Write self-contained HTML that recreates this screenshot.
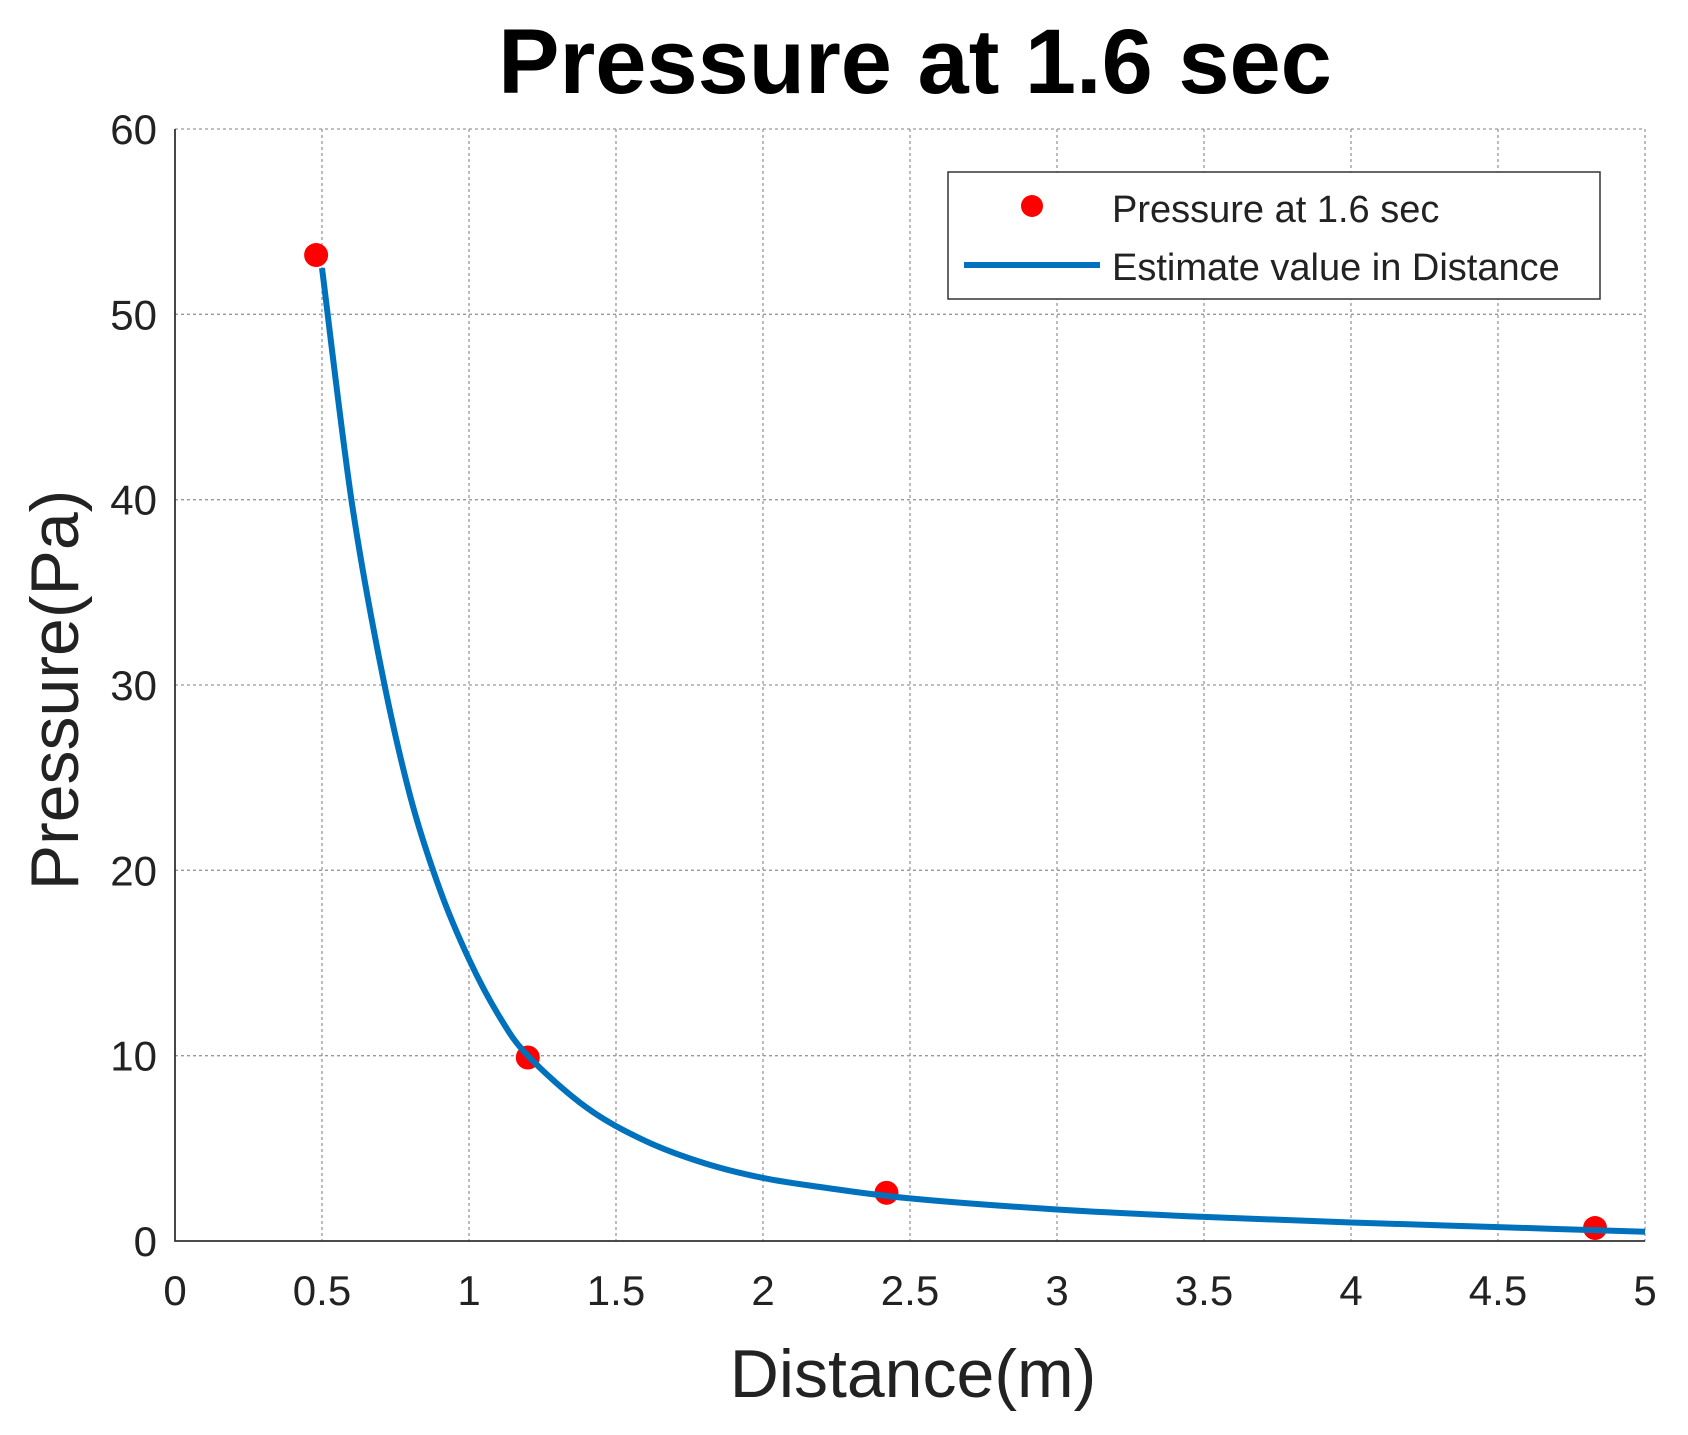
<!DOCTYPE html>
<html><head><meta charset="utf-8"><style>
body{margin:0;background:#fff;}
svg{display:block;font-family:"Liberation Sans",Arial,sans-serif;}
</style></head><body>
<svg id="chart" width="1688" height="1435" viewBox="0 0 1688 1435">
<text x="915" y="93" text-anchor="middle" font-size="92" font-weight="bold" fill="#000">Pressure at 1.6 sec</text>
<g id="grid"></g>
<g id="axes"></g>
<g id="series"></g>
<text x="913" y="1397" text-anchor="middle" font-size="68" fill="#222">Distance(m)</text>
<text transform="translate(78,690) rotate(-90)" text-anchor="middle" font-size="68" fill="#222">Pressure(Pa)</text>
<g>
<rect x="948" y="172" width="652" height="127" fill="#fff" stroke="#333" stroke-width="1.5"/>
<circle cx="1032" cy="206" r="11" fill="#ff0000"/>
<text x="1112" y="222" font-size="38" fill="#222">Pressure at 1.6 sec</text>
<line x1="964" y1="265" x2="1100" y2="265" stroke="#0072bd" stroke-width="6"/>
<text x="1112" y="280" font-size="38" fill="#222">Estimate value in Distance</text>
</g>
</svg>
<script>
const xTicks=[0,0.5,1,1.5,2,2.5,3,3.5,4,4.5,5];
const xTickLabels=["0","0.5","1","1.5","2","2.5","3","3.5","4","4.5","5"];
const yTicks=[0,10,20,30,40,50,60];
const yTickLabels=["0","10","20","30","40","50","60"];
const pointX=[0.48,1.2,2.42,4.83];
const pointY=[53.2,9.9,2.6,0.7];
const curveX=[0.5,0.6,0.7,0.8,0.9,1.0,1.1,1.2,1.4,1.6,1.8,2.0,2.2,2.5,3.0,3.5,4.0,4.5,5.0];
const curveY=[52.5,40,31,24,19,15.2,12.2,10,7.2,5.4,4.2,3.4,2.9,2.3,1.7,1.3,1.0,0.75,0.5];
const L=175,R=1645,T=129,B=1241;
const sx=v=>L+(v-0)/(5-0)*(R-L);
const sy=v=>B-(v-0)/(60-0)*(B-T);
const NS='http://www.w3.org/2000/svg';
function mk(tag,attrs,parent){const e=document.createElementNS(NS,tag);for(const k in attrs)e.setAttribute(k,attrs[k]);parent.appendChild(e);return e;}
const grid=document.getElementById('grid'),axes=document.getElementById('axes'),series=document.getElementById('series');
xTicks.forEach((t,i)=>{
  if(i>0){const g=mk('line',{x1:sx(t),x2:sx(t),y1:T,y2:B,stroke:'#999','stroke-width':1.3,'stroke-dasharray':'3,3'},grid);
  
  }
  const tx=mk('text',{x:sx(t),y:1305,'text-anchor':'middle','font-size':42,fill:'#222'},axes);
  tx.textContent=xTickLabels[i];
  
  
});
yTicks.forEach((t,i)=>{
  if(i>0){const g=mk('line',{x1:L,x2:R,y1:sy(t),y2:sy(t),stroke:'#999','stroke-width':1.3,'stroke-dasharray':'3,3'},grid);
  
  }
  const tx=mk('text',{x:157,y:sy(t)+15,'text-anchor':'end','font-size':42,fill:'#222'},axes);
  tx.textContent=yTickLabels[i];
  
  
});
const ax=mk('path',{d:`M${L},${T} V${B} H${R}`,fill:'none',stroke:'#333','stroke-width':1.8},axes);


pointX.forEach((x,i)=>{
  const c=mk('circle',{cx:sx(x),cy:sy(pointY[i]),r:12,fill:'#ff0000'},series);
  
  
});
const P=curveX.map((x,i)=>[sx(x),sy(curveY[i])]);
let d=`M${P[0][0]},${P[0][1]}`;
for(let i=0;i<P.length-1;i++){
  const p0=P[Math.max(0,i-1)],p1=P[i],p2=P[i+1],p3=P[Math.min(P.length-1,i+2)];
  const c1=[p1[0]+(p2[0]-p0[0])/6,p1[1]+(p2[1]-p0[1])/6];
  const c2=[p2[0]-(p3[0]-p1[0])/6,p2[1]-(p3[1]-p1[1])/6];
  d+=` C${c1[0]},${c1[1]} ${c2[0]},${c2[1]} ${p2[0]},${p2[1]}`;
}
const line=mk('path',{d:d,fill:'none',stroke:'#0072bd','stroke-width':6},series);


</script>
</body></html>
